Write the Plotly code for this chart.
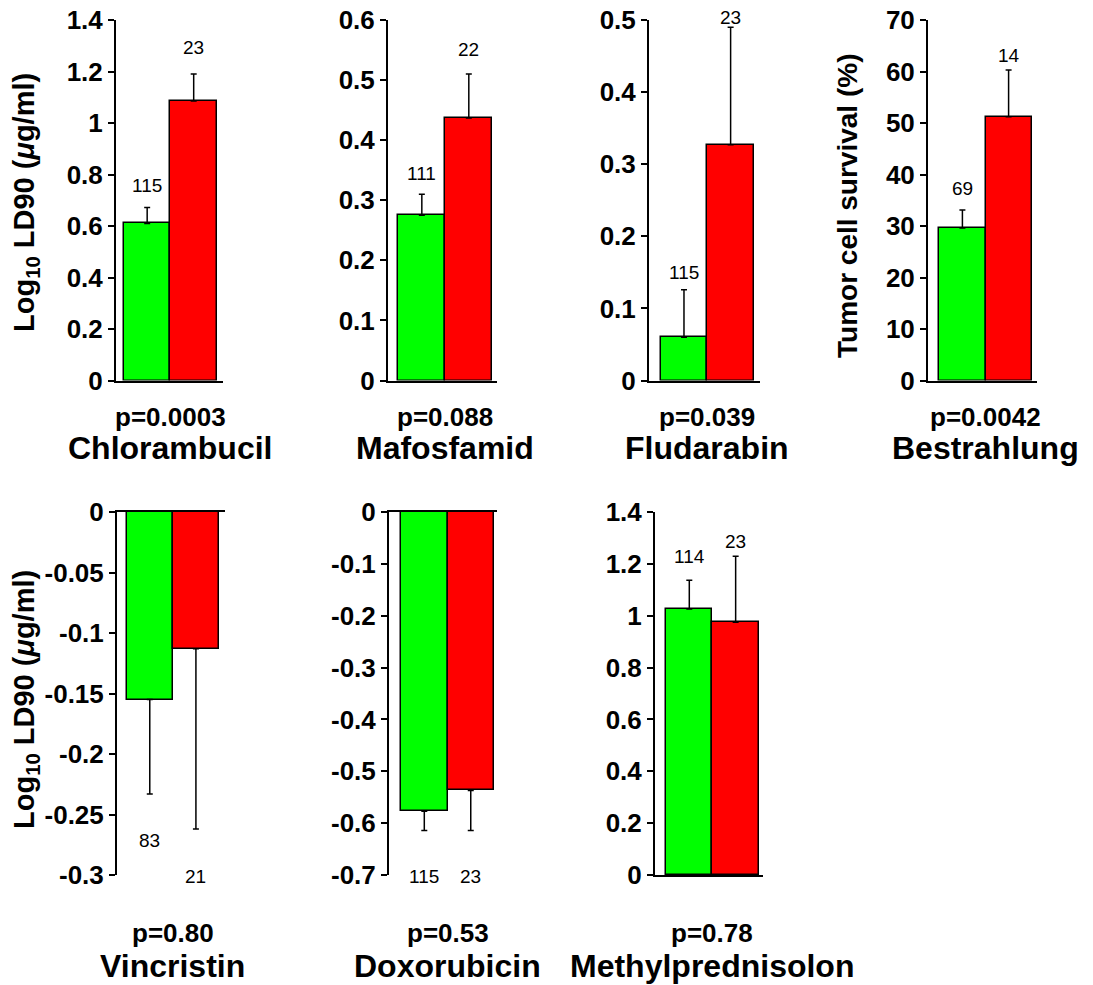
import plotly.graph_objects as go

# ---------------- data ----------------
drugs = ["Chlorambucil", "Mafosfamid", "Fludarabin", "Bestrahlung",
         "Vincristin", "Doxorubicin", "Methylprednisolon"]
p_values = ["p=0.0003", "p=0.088", "p=0.039", "p=0.0042",
            "p=0.80", "p=0.53", "p=0.78"]
green_mean = [0.61, 0.275, 0.06, 29.6, -0.155, -0.577, 1.026]
green_err = [0.062, 0.035, 0.066, 3.5, 0.078, 0.037, 0.111]
red_mean = [1.085, 0.437, 0.327, 51.2, -0.113, -0.537, 0.975]
red_err = [0.105, 0.073, 0.163, 9.1, 0.149, 0.077, 0.254]
green_n = [115, 111, 115, 69, 83, 115, 114]
red_n = [23, 22, 23, 14, 21, 23, 23]
tick_text = [
    ["0", "0.2", "0.4", "0.6", "0.8", "1", "1.2", "1.4"],
    ["0", "0.1", "0.2", "0.3", "0.4", "0.5", "0.6"],
    ["0", "0.1", "0.2", "0.3", "0.4", "0.5"],
    ["0", "10", "20", "30", "40", "50", "60", "70"],
    ["0", "-0.05", "-0.1", "-0.15", "-0.2", "-0.25", "-0.3"],
    ["0", "-0.1", "-0.2", "-0.3", "-0.4", "-0.5", "-0.6", "-0.7"],
    ["0", "0.2", "0.4", "0.6", "0.8", "1", "1.2", "1.4"],
]
ytitle_log = "Log<sub>10</sub> LD90 (<i>\u03bc</i>g/ml)"
ytitle_surv = "Tumor cell survival (%)"

# ---------------- layout / style ----------------
W, H = 1093, 985
OFF = 0  # page body margin is removed below
x_dom_px = [(116, 223), (388, 497), (649, 760), (928, 1037),
            (117, 225), (389, 497), (655, 763)]
x_ranges = [(-0.67, 1.63), (-0.72, 1.6), (-0.75, 1.63), (-0.745, 1.615),
            (-0.71, 1.63), (-0.76, 1.565), (-0.74, 1.59)]
row_px = [(20, 380.5), (512, 875)]
panel_row = [0, 0, 0, 0, 1, 1, 1]
green_shift = [22, 21, 17, 22, -47, -46, 24]
red_shift = [27, 25, 10, 14, -47, -46, 15]
p_y_px = [417, 933]
name_y_px = [448, 966]


def px_x(v):
    return (v - OFF) / W


def px_y(v):
    return 1 - (v - OFF) / H


GREEN = "#00FF00"
RED = "#FF0000"
FONT = "Liberation Sans, Arial, sans-serif"

fig = go.Figure()
annotations = []

for i in range(7):
    ax = "" if i == 0 else str(i + 1)
    gm, rm = green_mean[i], red_mean[i]
    neg = gm < 0
    if neg:
        err_up, err_dn = [0, 0], [green_err[i], red_err[i]]
    else:
        err_up, err_dn = [green_err[i], red_err[i]], [0, 0]
    fig.add_trace(go.Bar(
        x=[0, 1], y=[gm, rm], width=1,
        marker=dict(color=[GREEN, RED], line=dict(color="black", width=1.5)),
        error_y=dict(type="data", symmetric=False, array=err_up,
                     arrayminus=err_dn, color="black", thickness=1.5, width=3),
        xaxis="x" + ax, yaxis="y" + ax, showlegend=False,
    ))
    r = panel_row[i]
    top_px, bot_px = row_px[r]
    tv = [float(t) for t in tick_text[i]]
    yr = [min(tv), max(tv)]
    x0, x1 = x_dom_px[i]
    fig.update_layout({
        "xaxis" + ax: dict(domain=[px_x(x0), px_x(x1)], range=list(x_ranges[i]),
                           anchor="y" + ax, showticklabels=False, ticks="",
                           showgrid=False, zeroline=False, showline=True,
                           linecolor="black", linewidth=2, automargin=False,
                           side="top" if neg else "bottom", fixedrange=True),
        "yaxis" + ax: dict(domain=[px_y(bot_px), px_y(top_px)], range=yr,
                           anchor="x" + ax, tickvals=tv, ticktext=tick_text[i],
                           ticks="outside", ticklen=6, tickwidth=2,
                           tickcolor="black", showgrid=False, zeroline=False,
                           showline=True, linecolor="black", linewidth=2,
                           automargin=False, ticklabeloverflow="allow",
                           tickfont=dict(family=FONT, size=26, color="black",
                                         weight="bold"),
                           fixedrange=True),
    })
    # n labels
    for xv, m, e, n, sh in [(0, gm, green_err[i], green_n[i], green_shift[i]),
                            (1, rm, red_err[i], red_n[i], red_shift[i])]:
        yv = m + e if m >= 0 else m - e
        annotations.append(dict(x=xv, y=yv, xref="x" + ax, yref="y" + ax,
                                text=str(n), showarrow=False, yshift=sh,
                                xanchor="center", yanchor="middle",
                                font=dict(family=FONT, size=19, color="black")))
    # p-value and drug name
    annotations.append(dict(x=0.5, y=px_y(p_y_px[r]), xref="x" + ax,
                            yref="paper", text=p_values[i], showarrow=False,
                            xanchor="center", yanchor="middle",
                            font=dict(family=FONT, size=26, color="black",
                                      weight="bold")))
    annotations.append(dict(x=0.5, y=px_y(name_y_px[r]), xref="x" + ax,
                            yref="paper", text=drugs[i], showarrow=False,
                            xanchor="center", yanchor="middle",
                            font=dict(family=FONT, size=32, color="black",
                                      weight="bold")))

# y-axis titles
for txt, xp, yp, fs in [(ytitle_log, 26, 203, 29), (ytitle_surv, 847, 206, 28),
                        (ytitle_log, 26, 700, 29)]:
    annotations.append(dict(x=px_x(xp), y=px_y(yp), xref="paper", yref="paper",
                            text=txt, textangle=-90, showarrow=False,
                            xanchor="center", yanchor="middle",
                            font=dict(family=FONT, size=fs, color="black",
                                      weight="bold")))

fig.update_layout(
    width=W, height=H, margin=dict(l=0, r=0, t=0, b=0, autoexpand=False),
    paper_bgcolor="white", plot_bgcolor="white",
    annotations=annotations, bargap=0, hovermode=False,
)

fig.write_html("out.html", config={"displayModeBar": False},
               post_script="document.body.style.margin='0';"
                           "document.body.style.padding='0';")
